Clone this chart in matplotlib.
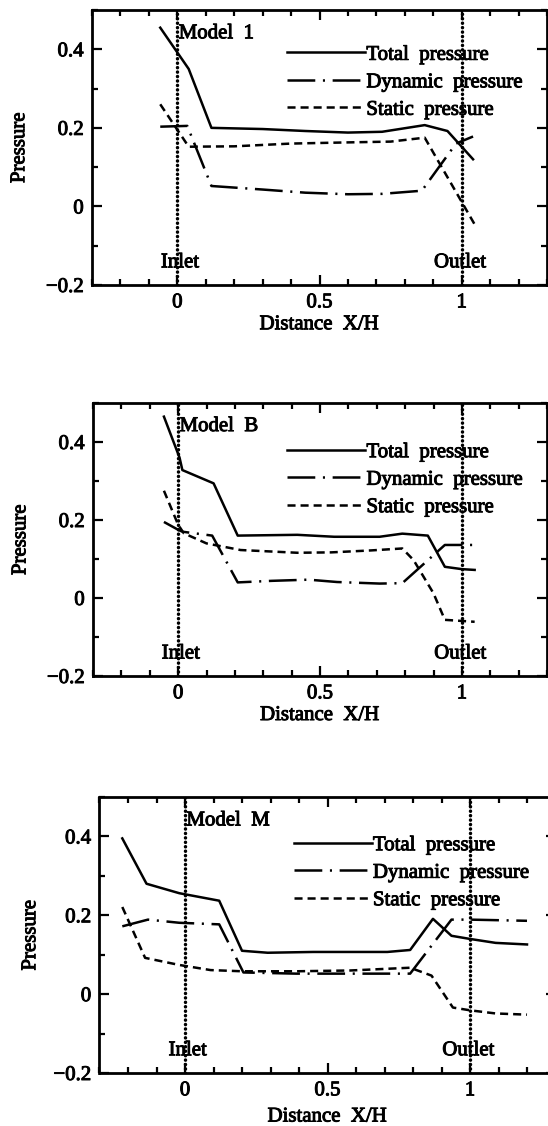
import matplotlib
matplotlib.use("Agg")
import matplotlib.pyplot as plt
import matplotlib.patheffects as pe
from matplotlib.ticker import MultipleLocator, FixedLocator, FixedFormatter

plt.rcParams['font.family'] = ['Liberation Serif', 'DejaVu Serif']
plt.rcParams['lines.scale_dashes'] = False

# ---------------- data ----------------
titles = ["Model  1", "Model  B", "Model  M"]
legend_labels = ["Total  pressure", "Dynamic  pressure", "Static  pressure"]
xlabel_text = "Distance  X/H"
ylabel_text = "Pressure"
x_tick_vals = [0, 0.5, 1]
x_tick_labels = ["0", "0.5", "1"]
y_tick_vals = [-0.2, 0, 0.2, 0.4]
y_tick_labels = ["\u22120.2", "0", "0.2", "0.4"]
inlet_x = 0.0
outlet_x = 1.0

# Model 1
x_total1 = [-0.06, 0.04, 0.12, 0.3, 0.45, 0.6, 0.72, 0.87, 0.95, 0.99, 1.04]
y_total1 = [0.455, 0.35, 0.2, 0.197, 0.192, 0.188, 0.19, 0.207, 0.192, 0.16, 0.12]
x_dyn1 = [-0.06, 0.035, 0.12, 0.3, 0.45, 0.6, 0.72, 0.86, 0.98, 1.04]
y_dyn1 = [0.203, 0.205, 0.052, 0.043, 0.035, 0.031, 0.032, 0.04, 0.16, 0.178]
x_sta1 = [-0.06, 0.04, 0.2, 0.4, 0.6, 0.75, 0.87, 1.045]
y_sta1 = [0.26, 0.152, 0.153, 0.16, 0.163, 0.165, 0.175, -0.045]

# Model B
x_total2 = [-0.05, 0.005, 0.015, 0.125, 0.21, 0.42, 0.55, 0.71, 0.79, 0.88, 0.94, 1.0, 1.045]
y_total2 = [0.465, 0.36, 0.328, 0.294, 0.16, 0.162, 0.157, 0.157, 0.165, 0.16, 0.08, 0.074, 0.072]
x_dyn2 = [-0.05, 0.0, 0.015, 0.12, 0.21, 0.33, 0.46, 0.56, 0.71, 0.79, 0.94, 1.04]
y_dyn2 = [0.195, 0.175, 0.17, 0.16, 0.04, 0.044, 0.047, 0.041, 0.037, 0.038, 0.136, 0.136]
x_sta2 = [-0.05, 0.0, 0.02, 0.1, 0.22, 0.42, 0.54, 0.68, 0.79, 0.83, 0.9, 0.94, 1.045]
y_sta2 = [0.275, 0.188, 0.166, 0.14, 0.123, 0.116, 0.117, 0.122, 0.127, 0.097, 0.012, -0.056, -0.061]

# Model M
x_total3 = [-0.22, -0.135, -0.02, 0.12, 0.2, 0.29, 0.45, 0.71, 0.79, 0.87, 0.935, 1.0, 1.09, 1.2]
y_total3 = [0.395, 0.28, 0.256, 0.237, 0.11, 0.105, 0.107, 0.107, 0.112, 0.191, 0.148, 0.14, 0.13, 0.126]
x_dyn3 = [-0.22, -0.13, -0.02, 0.12, 0.205, 0.39, 0.58, 0.79, 0.935, 1.0, 1.2]
y_dyn3 = [0.172, 0.189, 0.181, 0.177, 0.055, 0.052, 0.052, 0.052, 0.189, 0.189, 0.186]
x_sta3 = [-0.22, -0.14, -0.02, 0.09, 0.2, 0.39, 0.58, 0.79, 0.865, 0.94, 1.0, 1.09, 1.2]
y_sta3 = [0.221, 0.092, 0.074, 0.061, 0.058, 0.058, 0.06, 0.067, 0.047, -0.034, -0.041, -0.049, -0.052]

panels = [
    (x_total1, y_total1, x_dyn1, y_dyn1, x_sta1, y_sta1),
    (x_total2, y_total2, x_dyn2, y_dyn2, x_sta2, y_sta2),
    (x_total3, y_total3, x_dyn3, y_dyn3, x_sta3, y_sta3),
]

# ---------------- layout ----------------
W, H = 548, 1126
fig = plt.figure(figsize=(W / 100, H / 100), dpi=100)
fig.patch.set_facecolor("white")

# pixel boxes: left, right, top, bottom
boxes = [(92, 547, 10, 285), (93, 547, 403, 676), (99.5, 555.5, 797, 1073)]
legend_anchor = [(0.429, 0.872), (0.428, 0.855), (0.426, 0.860)]
ylabel_x = [-0.138, -0.138, -0.130]
xlabel_y = [-0.11, -0.11, -0.125]

dash_dot = (0, (20, 5.5, 1.5, 5.5))
dashed = (0, (5.8, 3.6))
lw = 1.8
ink = [pe.withStroke(linewidth=0.7, foreground="black")]

for i, (xt, yt, xd, yd, xs, ys) in enumerate(panels):
    l, r, t, b = boxes[i]
    ax = fig.add_axes([l / W, 1 - b / H, (r - l) / W, (b - t) / H])
    ax.set_xlim(-0.3, 1.3)
    ax.set_ylim(-0.2, 0.5)

    h1, = ax.plot(xt, yt, color="black", lw=lw, ls="-", label=legend_labels[0])
    h2, = ax.plot(xd, yd, color="black", lw=lw, ls=dash_dot, label=legend_labels[1])
    h3, = ax.plot(xs, ys, color="black", lw=lw, ls=dashed, label=legend_labels[2])

    for xv in (inlet_x, outlet_x):
        ax.axvline(xv, color="black", lw=2.5, ls=(0, (0.1, 3.1)),
                   dash_capstyle="round")

    ax.text(0.005, 0.428, titles[i], fontsize=15, ha="left", va="baseline",
            path_effects=ink)
    ax.text(0.01, -0.155, "Inlet", fontsize=15, ha="center", va="baseline",
            path_effects=ink)
    ax.text(0.995, -0.155, "Outlet", fontsize=15, ha="center", va="baseline",
            path_effects=ink)

    leg = ax.legend(handles=[h1, h2, h3], loc="upper left",
                    bbox_to_anchor=legend_anchor[i], frameon=False,
                    fontsize=15, handlelength=3.75, handletextpad=0.05,
                    labelspacing=0.38, borderpad=0, borderaxespad=0)
    for txt in leg.get_texts():
        txt.set_path_effects(ink)

    ax.xaxis.set_major_locator(FixedLocator(x_tick_vals))
    ax.xaxis.set_major_formatter(FixedFormatter(x_tick_labels))
    ax.xaxis.set_minor_locator(MultipleLocator(0.1))
    ax.yaxis.set_major_locator(FixedLocator(y_tick_vals))
    ax.yaxis.set_major_formatter(FixedFormatter(y_tick_labels))
    ax.yaxis.set_minor_locator(MultipleLocator(0.1))
    ax.tick_params(which="both", direction="in", top=True, right=True,
                   width=1.6, labelsize=15, pad=6)
    ax.tick_params(which="major", length=7.5)
    ax.tick_params(which="minor", length=4.5)
    for lab in ax.get_xticklabels() + ax.get_yticklabels():
        lab.set_path_effects(ink)
    for sp in ax.spines.values():
        sp.set_linewidth(2.0)

    ax.set_ylabel(ylabel_text, fontsize=15, path_effects=ink)
    ax.yaxis.set_label_coords(ylabel_x[i], 0.5)
    ax.set_xlabel(xlabel_text, fontsize=15, va="top", path_effects=ink)
    ax.xaxis.set_label_coords(0.5, xlabel_y[i])

fig.savefig("out.png", dpi=100)
